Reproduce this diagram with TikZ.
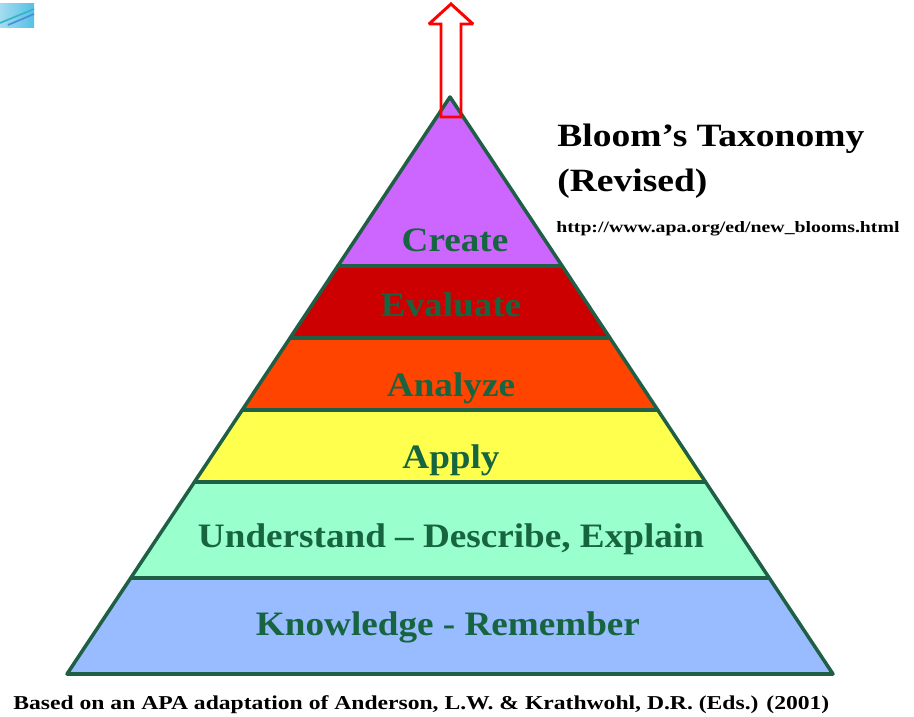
\documentclass[tikz,border=0pt]{standalone}
\usepackage{fontspec}
\setmainfont{Liberation Serif}
\newfontfamily\labfont[FakeStretch=1.085]{Liberation Serif}
\newfontfamily\titfont[FakeStretch=1.155]{Liberation Serif}
\newfontfamily\urlfont[FakeStretch=1.25]{Liberation Serif}
\newfontfamily\srcfont[FakeStretch=1.2]{Liberation Serif}
\definecolor{edgeg}{HTML}{1F5F45}
\definecolor{textg}{HTML}{176540}
\definecolor{cCreate}{HTML}{CC66FF}
\definecolor{cEval}{HTML}{CC0000}
\definecolor{cAna}{HTML}{FF4400}
\definecolor{cApp}{HTML}{FFFF4D}
\definecolor{cUnd}{HTML}{99FFCC}
\definecolor{cKno}{HTML}{99BBFF}
\definecolor{logoA}{HTML}{A4DCF0}
\definecolor{logoB}{HTML}{55BFE6}
\definecolor{logoC}{HTML}{35B5C8}
\definecolor{logoD}{HTML}{4A90D8}
\tikzset{
 band/.style={draw=edgeg,line width=2pt,line join=round},
 lab/.style={text=textg,font=\labfont\bfseries\fontsize{19.5}{22}\selectfont,inner sep=0pt,anchor=base},
 blk/.style={text=black,inner sep=0pt,anchor=base west}
}
\begin{document}
\begin{tikzpicture}[x=0.02cm,y=-0.02cm]
\useasboundingbox (0,0) rectangle (914,717);
% corner logo
\shade[left color=logoA,right color=logoB] (0,3) rectangle (34,27);
\draw[logoC,line width=1pt] (0,23) -- (34,9);
\draw[logoD,line width=1pt] (8,25) -- (34,14);
% bands
\def\lx#1{\fpeval{450-(#1-97)*383/577}}
\def\rx#1{\fpeval{450+(#1-97)*383/577}}
\filldraw[band,fill=cCreate] (450,97) -- (\rx{266},266) -- (\lx{266},266) -- cycle;
\filldraw[band,fill=cEval] (\lx{266},266) -- (\rx{266},266) -- (\rx{338},338) -- (\lx{338},338) -- cycle;
\filldraw[band,fill=cAna] (\lx{338},338) -- (\rx{338},338) -- (\rx{410},410) -- (\lx{410},410) -- cycle;
\filldraw[band,fill=cApp] (\lx{410},410) -- (\rx{410},410) -- (\rx{482},482) -- (\lx{482},482) -- cycle;
\filldraw[band,fill=cUnd] (\lx{482},482) -- (\rx{482},482) -- (\rx{578},578) -- (\lx{578},578) -- cycle;
\filldraw[band,fill=cKno] (\lx{578},578) -- (\rx{578},578) -- (833,674) -- (67,674) -- cycle;
% labels
\node[lab] (create) at (455,251) {Create};
\node[lab] (evaluate) at (451,316) {Evaluate};
\node[lab] (analyze) at (451,396) {Analyze};
\node[lab] (apply) at (451,468) {Apply};
\node[lab] (understand) at (451,547) {Understand – Describe, Explain};
\node[lab] (knowledge) at (448,635) {Knowledge - Remember};
% title
\node[blk,font=\titfont\bfseries\fontsize{18.5}{22}\selectfont] (title1) at (557,146) {Bloom’s Taxonomy};
\node[blk,font=\titfont\bfseries\fontsize{18.5}{22}\selectfont] (title2) at (557,191) {(Revised)};
\node[blk,font=\urlfont\bfseries\fontsize{9}{11}\selectfont] (url) at (556,232) {http://www.apa.org/ed/new\_blooms.html};
\node[blk,font=\srcfont\bfseries\fontsize{11.2}{13}\selectfont] (source) at (13,709) {Based on an APA adaptation of Anderson, L.W. \& Krathwohl, D.R. (Eds.) (2001)};
% arrow
\draw[red,line width=1.7pt,line join=miter,miter limit=2] (451,4) -- (473,24) -- (461,24) -- (461,117) -- (441,117) -- (441,24) -- (429,24) -- cycle;
\end{tikzpicture}
\end{document}
